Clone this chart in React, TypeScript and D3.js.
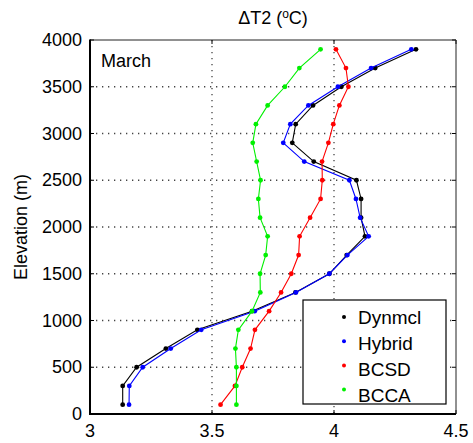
import React from "react";
import * as d3 from "d3";

// Elevation levels (m) at which the temperature change is reported
const elevations = [100, 300, 500, 700, 900, 1100, 1300, 1500, 1700, 1900, 2100, 2300, 2500, 2700, 2900, 3100, 3300, 3500, 3700, 3900];

// ΔT2 (°C) per downscaling method, one value per elevation level
const dynmcl = [3.134, 3.134, 3.191, 3.311, 3.44, 3.664, 3.842, 3.981, 4.052, 4.127, 4.111, 4.111, 4.092, 3.917, 3.829, 3.843, 3.914, 4.03, 4.169, 4.336];
const hybrid = [3.16, 3.161, 3.216, 3.331, 3.456, 3.675, 3.844, 3.981, 4.055, 4.142, 4.107, 4.09, 4.063, 3.878, 3.792, 3.821, 3.895, 4.016, 4.152, 4.317];
const bcsd = [3.535, 3.594, 3.624, 3.658, 3.676, 3.734, 3.783, 3.825, 3.855, 3.859, 3.902, 3.945, 3.952, 3.951, 3.977, 3.997, 4.022, 4.059, 4.049, 4.008];
const bcca = [3.6, 3.6, 3.6, 3.596, 3.608, 3.664, 3.698, 3.697, 3.72, 3.728, 3.697, 3.69, 3.699, 3.683, 3.667, 3.68, 3.728, 3.799, 3.858, 3.945];

const seriesNames = ["Dynmcl", "Hybrid", "BCSD", "BCCA"];
const seriesValues = [dynmcl, hybrid, bcsd, bcca];
const seriesColors = ["#000000", "#0000ff", "#ff0000", "#00f000"];

const xTicks = [3, 3.5, 4, 4.5];
const yTicks = [0, 500, 1000, 1500, 2000, 2500, 3000, 3500, 4000];

const W = 473;
const H = 443;
const left = 90;
const right = 456;
const top = 40;
const bottom = 414;
const font = "'Liberation Sans', Arial, sans-serif";

export default function App() {
  const x = d3.scaleLinear().domain([3, 4.5]).range([left, right]);
  const y = d3.scaleLinear().domain([0, 4000]).range([bottom, top]);
  const line = d3
    .line<[number, number]>()
    .x((d) => x(d[0]))
    .y((d) => y(d[1]));

  const legendX = 303;
  const legendY = 300;
  const legendW = 143;
  const legendH = 104;

  return (
    <svg
      width={W}
      height={H}
      style={{ position: "absolute", left: 0, top: 0, background: "#fff" }}
      fontFamily={font}
    >
      <rect x={0} y={0} width={W} height={H} fill="#fff" />

      {/* dotted grid */}
      {xTicks
        .filter((t) => t > 3 && t < 4.5)
        .map((t) => (
          <line
            key={"gx" + t}
            x1={x(t)}
            x2={x(t)}
            y1={top}
            y2={bottom}
            stroke="#444"
            strokeWidth={1.3}
            strokeDasharray="1.3 4.7"
          />
        ))}
      {yTicks
        .filter((t) => t > 0 && t < 4000)
        .map((t) => (
          <line
            key={"gy" + t}
            x1={left}
            x2={right}
            y1={y(t)}
            y2={y(t)}
            stroke="#444"
            strokeWidth={1.3}
            strokeDasharray="1.3 4.7"
          />
        ))}

      {/* inward tick marks on all four sides */}
      {xTicks.map((t) => (
        <g key={"tx" + t}>
          <line x1={x(t)} x2={x(t)} y1={bottom} y2={bottom - 4} stroke="#000" />
          <line x1={x(t)} x2={x(t)} y1={top} y2={top + 4} stroke="#000" />
        </g>
      ))}
      {yTicks.map((t) => (
        <g key={"ty" + t}>
          <line x1={left} x2={left + 4} y1={y(t)} y2={y(t)} stroke="#000" />
          <line x1={right} x2={right - 4} y1={y(t)} y2={y(t)} stroke="#000" />
        </g>
      ))}

      {/* series */}
      {seriesValues.map((vals, i) => {
        const pts: [number, number][] = vals.map((v, k) => [v, elevations[k]]);
        return (
          <g key={seriesNames[i]}>
            <path d={line(pts) || ""} fill="none" stroke={seriesColors[i]} strokeWidth={1.1} />
            {pts.map((p, k) => (
              <circle key={k} cx={x(p[0])} cy={y(p[1])} r={2.4} fill={seriesColors[i]} />
            ))}
          </g>
        );
      })}

      {/* axes frame */}
      <line x1={left} x2={right} y1={top} y2={top} stroke="#222" strokeWidth={1} />
      <line x1={right} x2={right} y1={top} y2={bottom} stroke="#222" strokeWidth={1} />
      <line x1={left} x2={left} y1={top - 0.5} y2={bottom + 1} stroke="#000" strokeWidth={2} />
      <line x1={left - 1} x2={right} y1={bottom} y2={bottom} stroke="#000" strokeWidth={2} />

      {/* tick labels */}
      {xTicks.map((t) => (
        <text key={"lx" + t} x={x(t)} y={437} fontSize={18} textAnchor="middle" fill="#000">
          {String(t)}
        </text>
      ))}
      {yTicks.map((t) => (
        <text
          key={"ly" + t}
          x={82}
          y={y(t) + 6}
          fontSize={18}
          textAnchor="end"
          fill="#000"
        >
          {String(t)}
        </text>
      ))}

      {/* titles */}
      <text x={273} y={24} fontSize={18} textAnchor="middle" fill="#000">
        ΔT2 (<tspan dy={-6} fontSize={12}>o</tspan>
        <tspan dy={6}>C)</tspan>
      </text>
      <text
        transform={`translate(27, ${(top + bottom) / 2}) rotate(-90)`}
        fontSize={18}
        textAnchor="middle"
        fill="#000"
      >
        Elevation (m)
      </text>
      <text x={101} y={67} fontSize={18} fill="#000">
        March
      </text>

      {/* legend */}
      <rect x={legendX} y={legendY} width={legendW} height={legendH} fill="#fff" stroke="#000" strokeWidth={1.2} />
      {seriesNames.map((name, i) => (
        <g key={"lg" + name}>
          <circle cx={344} cy={317 + i * 24.2} r={2} fill={seriesColors[i]} />
          <text x={358} y={323.5 + i * 26.2} fontSize={19} fill="#000">
            {name}
          </text>
        </g>
      ))}
    </svg>
  );
}
